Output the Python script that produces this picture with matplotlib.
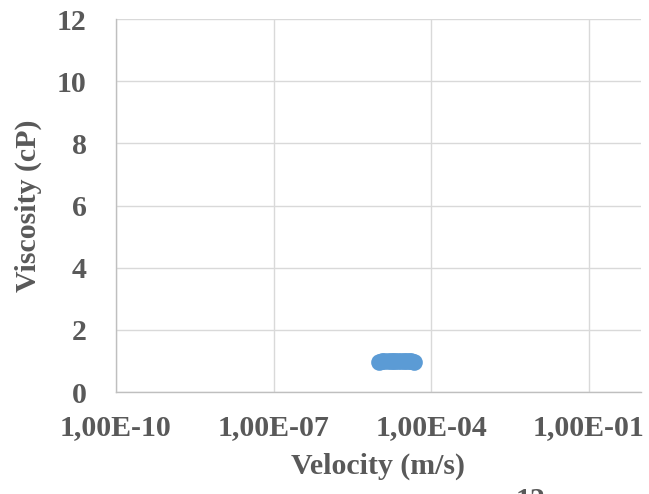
import matplotlib.pyplot as plt
import numpy as np

# velocity (m/s) and viscosity (cP)
velocity = [1.0e-5, 1.15e-5, 1.3e-5, 1.5e-5, 1.7e-5, 1.9e-5, 2.1e-5, 2.4e-5,
            2.7e-5, 3.0e-5, 3.4e-5, 3.8e-5, 4.2e-5, 4.7e-5]
viscosity = [0.98, 0.99, 1.0, 1.0, 1.01, 1.0, 1.0, 1.01, 1.0, 1.0, 0.99, 1.0, 0.99, 0.98]
xticks = [1e-10, 1e-7, 1e-4, 1e-1]
xlabels = ['1,00E-10', '1,00E-07', '1,00E-04', '1,00E-01']
yticks = [0, 2, 4, 6, 8, 10, 12]

plt.rcParams['font.family'] = ['Liberation Serif', 'DejaVu Serif']
grey = '#595959'
W, H = 649, 494

fig = plt.figure(figsize=(W / 100, H / 100), dpi=100)
ax = fig.add_axes([116 / W, (H - 392) / H, (641 - 116) / W, (392 - 19) / H])

ax.plot(velocity, viscosity, 'o', color='#5b9bd5', markersize=12, markeredgewidth=0, zorder=3)

ax.set_xscale('log')
ax.set_xlim(1e-10, 1)
ax.set_ylim(0, 12)
ax.set_xticks(xticks)
ax.set_xticklabels(xlabels)
ax.minorticks_off()
ax.set_yticks(yticks)
ax.grid(True, color='#d9d9d9', linewidth=1.0)
ax.set_axisbelow(True)
for s in ['top', 'right']:
    ax.spines[s].set_visible(False)
for s in ['left', 'bottom']:
    ax.spines[s].set_color('#bfbfbf')
    ax.spines[s].set_linewidth(1.0)
ax.tick_params(length=0, labelsize=21.5, labelcolor=grey)
ax.tick_params(axis='y', pad=21)
ax.tick_params(axis='x', pad=16)
for t in ax.get_xticklabels() + ax.get_yticklabels():
    t.set_fontweight('bold')

fig.text(378 / W, (H - 466) / H, 'Velocity (m/s)', ha='center', va='center',
         fontsize=21.5, fontweight='bold', color=grey)
fig.text(28 / W, (H - 206) / H, 'Viscosity (cP)', ha='center', va='center',
         rotation=90, fontsize=21.5, fontweight='bold', color=grey)
fig.text(531 / W, (H - 508) / H, '12', ha='center', va='baseline',
         fontsize=21.5, fontweight='bold', color=grey)

fig.savefig('out.png', dpi=100)
